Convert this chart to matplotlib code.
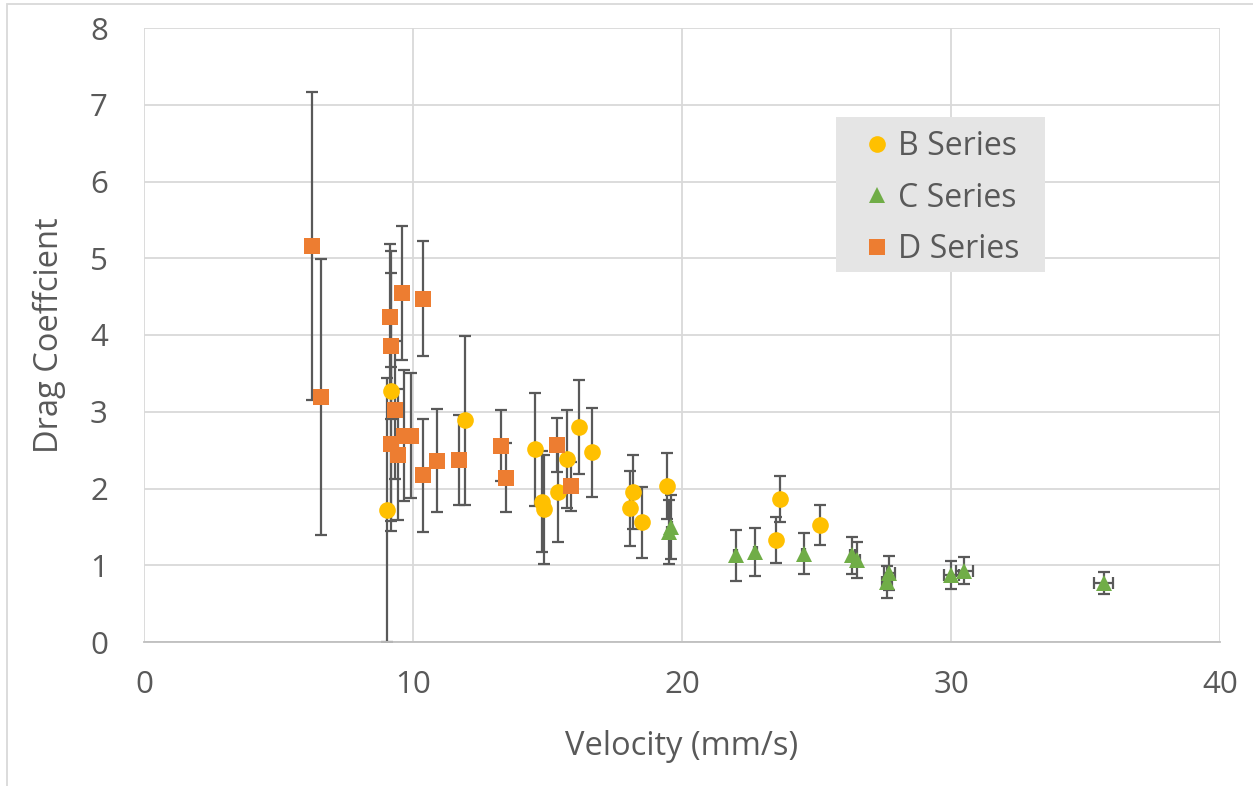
import matplotlib
matplotlib.use("Agg")
import matplotlib.pyplot as plt
from matplotlib.patches import Rectangle

# data: velocity (mm/s), drag coefficient, +/- error
b_vel = [9.02, 9.19, 11.95, 14.55, 14.80, 14.86, 15.40, 15.74, 16.16, 16.67,
         18.05, 18.19, 18.51, 19.44, 23.50, 23.63, 25.12]
b_cd = [1.72, 3.27, 2.89, 2.51, 1.83, 1.73, 1.95, 2.38, 2.80, 2.47,
        1.74, 1.95, 1.56, 2.03, 1.33, 1.86, 1.53]
b_err = [1.72, 1.82, 1.10, 0.74, 0.66, 0.71, 0.65, 0.64, 0.61, 0.58,
         0.49, 0.48, 0.46, 0.43, 0.30, 0.30, 0.26]

c_vel = [19.50, 19.59, 22.00, 22.73, 24.52, 26.33, 26.50, 27.62, 27.70,
         30.01, 30.50, 35.68]
c_cd = [1.43, 1.50, 1.13, 1.17, 1.15, 1.13, 1.07, 0.78, 0.90, 0.87, 0.93, 0.77]
c_err = [0.42, 0.42, 0.33, 0.31, 0.27, 0.24, 0.23, 0.21, 0.22, 0.18, 0.18, 0.14]
c_xerr = [0.05, 0.05, 0.05, 0.05, 0.05, 0.1, 0.1, 0.2, 0.2, 0.28, 0.3, 0.36]

d_vel = [6.26, 6.58, 9.16, 9.19, 9.60, 10.38, 9.33, 9.19, 9.44, 9.65, 9.94,
         10.38, 10.89, 11.72, 13.28, 13.46, 15.37, 15.87]
d_cd = [5.16, 3.19, 4.23, 3.86, 4.55, 4.47, 3.02, 2.58, 2.44, 2.69, 2.69,
        2.17, 2.36, 2.37, 2.56, 2.14, 2.57, 2.03]
d_err = [2.01, 1.80, 0.95, 0.95, 0.87, 0.75, 0.90, 1.00, 0.85, 0.85, 0.82,
         0.74, 0.67, 0.59, 0.46, 0.45, 0.35, 0.32]

# styling
text_color = "#595959"
grid_color = "#d9d9d9"
err_color = "#595959"
fs_ticks = 22.5
fs_labels = 23.5
fs_legend = 23
plt.rcParams["font.family"] = ["Open Sans", "DejaVu Sans"]

fig = plt.figure(figsize=(12.53, 7.86), dpi=100)
ax = fig.add_axes([144/1253, 1-642/786, (1220-144)/1253, (642-28)/786])

err_kw = dict(fmt="none", ecolor=err_color, elinewidth=1.6, capsize=4.3,
              capthick=1.6, zorder=2)
ax.errorbar(b_vel, b_cd, yerr=b_err, **err_kw)
ax.errorbar(c_vel, c_cd, yerr=c_err, xerr=c_xerr, **err_kw)
ax.errorbar(d_vel, d_cd, yerr=d_err, **err_kw)

ax.plot(b_vel, b_cd, "o", color="#ffc000", markersize=12, mew=0,
        label="B Series", zorder=3)
ax.plot(c_vel, c_cd, "^", color="#70ad47", markersize=12, mew=0,
        label="C Series", zorder=3)
ax.plot(d_vel, d_cd, "s", color="#ed7d31", markersize=11.5, mew=0,
        label="D Series", zorder=3)

ax.set_xlim(0, 40)
ax.set_ylim(0, 8)
ax.set_xticks([0, 10, 20, 30, 40])
ax.set_yticks(range(0, 9))
ax.grid(True, color=grid_color, linewidth=1.3)
ax.set_axisbelow(True)
for s in ["left", "right", "top"]:
    ax.spines[s].set_visible(False)
ax.spines["bottom"].set_color("#bfbfbf")
ax.spines["bottom"].set_linewidth(1.3)
ax.tick_params(length=0, labelsize=fs_ticks, colors=text_color)
ax.tick_params(axis="y", pad=26)
ax.tick_params(axis="x", pad=20)

ax.set_xlabel("Velocity (mm/s)", fontsize=fs_labels, color=text_color, labelpad=22)
ax.set_ylabel("Drag Coeffcient", fontsize=fs_labels, color=text_color, labelpad=17)

# legend background box, then a frameless legend on top of it
ax.add_patch(Rectangle((0.6431, 0.6026), 0.8374 - 0.6431, 0.8550 - 0.6026,
                       transform=ax.transAxes, facecolor="#e5e5e5",
                       edgecolor="none", zorder=4))
leg = ax.legend(loc="center left", bbox_to_anchor=(0.6664, 0.723),
                borderaxespad=0, borderpad=0, frameon=False,
                fontsize=fs_legend, labelcolor=text_color, handlelength=1.0,
                handletextpad=0.17, labelspacing=0.58)
leg.set_zorder(5)

# light border around the chart area
fig.add_artist(Rectangle((7/1253, -0.1), 1.2, 1.1 - 4/786, transform=fig.transFigure,
                         fill=False, edgecolor=grid_color, linewidth=1.3,
                         clip_on=False))

fig.savefig("out.png", dpi=100)
